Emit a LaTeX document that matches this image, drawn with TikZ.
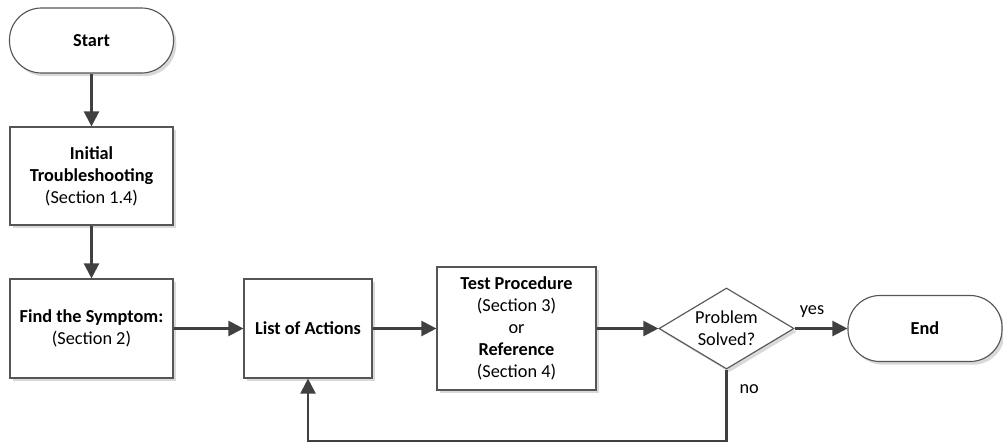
\documentclass[tikz,border=0pt]{standalone}
\usepackage{fontspec}
\setmainfont{Carlito}
\usetikzlibrary{arrows.meta,shapes.geometric,shadows}
\definecolor{linegray}{HTML}{404040}
\definecolor{edgegray}{HTML}{555555}
\begin{document}
\begin{tikzpicture}[x=0.025cm, y=-0.025cm, font=\fontsize{13pt}{15.6pt}\selectfont,
    box/.style={draw=edgegray, line width=0.8pt, fill=white, align=center, inner sep=2pt,
        drop shadow={shadow xshift=0.07cm, shadow yshift=-0.08cm, fill=black!15, opacity=1}},
    term/.style={box, rounded corners=0.8cm},
    decision/.style={box, diamond, shape aspect=1.67, inner sep=0pt, minimum width=3.375cm, minimum height=2.025cm},
    flow/.style={draw=linegray, line width=1.6pt, -{Triangle[length=0.375cm, width=0.375cm]}},
    lbl/.style={inner sep=0pt}]
    \useasboundingbox (0,0) rectangle (1003,443);
    % top column
    \node[term, minimum width=4.1cm, minimum height=1.625cm] (start) at (91.5, 40.5) {\textbf{Start}};
    \node[box, minimum width=4.075cm, minimum height=2.45cm] (init) at (91.5, 176) {\textbf{Initial}\\\textbf{Troubleshooting}\\(Section 1.4)};
    \node[box, minimum width=4.075cm, minimum height=2.475cm] (find) at (91.5, 328.5) {\textbf{Find the Symptom:}\\(Section 2)};
    % bottom row
    \node[box, minimum width=3.2cm, minimum height=2.475cm] (list) at (308, 328.5) {\textbf{List of Actions}};
    \node[box, minimum width=3.975cm, minimum height=3.075cm] (test) at (516.5, 328.5) {\textbf{Test Procedure}\\(Section 3)\\or\\\textbf{Reference}\\(Section 4)};
    \node[decision] (dec) at (726.5, 328.5) {Problem\\Solved?};
    \node[term, minimum width=3.85cm, minimum height=1.65cm] (end) at (925, 328.5) {\textbf{End}};
    \coordinate (loop) at (726.5, 441);
    % connectors
    \draw[flow] (start) -- (init);
    \draw[flow] (init) -- (find);
    \draw[flow] (find) -- (list);
    \draw[flow] (list) -- (test);
    \draw[flow] (test) -- (dec);
    \draw[flow] (dec) -- node[lbl, pos=0.33, above=0.25cm] {yes} (end);
    \draw[flow] (dec.south) -- node[lbl, pos=0.27, right=0.3cm] {no} (loop) -| (list.south);
\end{tikzpicture}
\end{document}
